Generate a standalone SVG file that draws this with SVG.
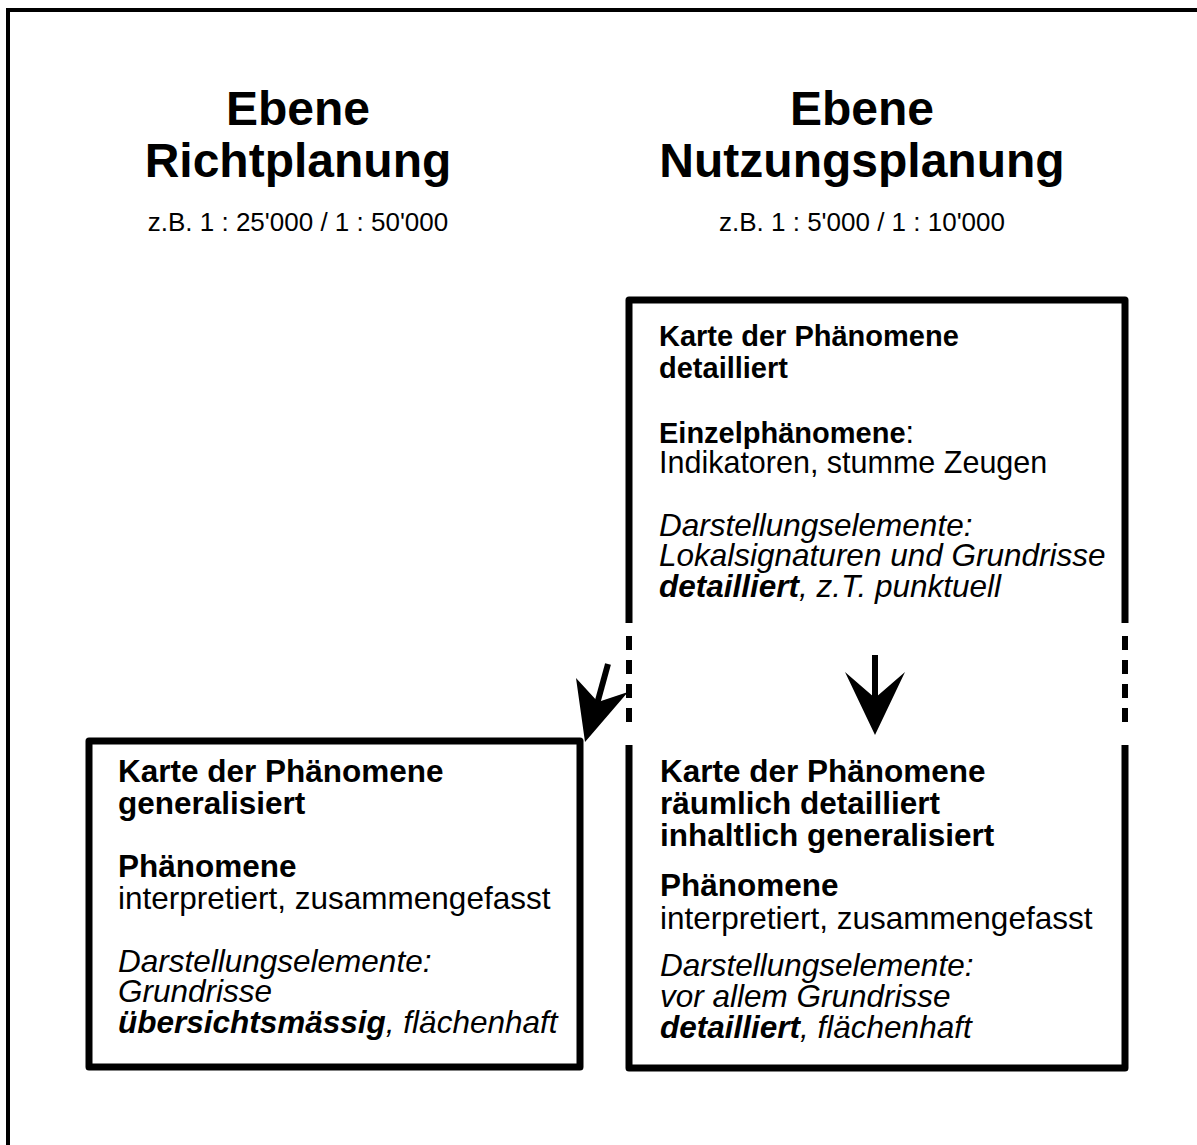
<svg xmlns="http://www.w3.org/2000/svg" width="1197" height="1145" viewBox="0 0 1197 1145">
<style>
text{font-family:"Liberation Sans",Arial,sans-serif;fill:#000}
.h{font-size:48px;font-weight:bold;text-anchor:middle}
.s{font-size:26px;text-anchor:middle}
.t{font-size:31.5px}
.t2{font-size:30.5px}
.b{font-weight:bold}
.tb{font-size:29px;font-weight:bold}
.i{font-style:italic}
.box{fill:none;stroke:#000;stroke-width:7;stroke-linejoin:round}
.dash{fill:none;stroke:#000;stroke-width:6;stroke-dasharray:14 10}
</style>
<rect width="1197" height="1145" fill="#fff"/>
<path d="M8,1145 V10 H1197" fill="none" stroke="#000" stroke-width="4"/>
<g id="title-left">
<text class="h" x="298" y="125">Ebene</text>
<text class="h" x="298" y="177">Richtplanung</text>
<text class="s" x="298" y="231">z.B. 1 : 25'000 / 1 : 50'000</text>
</g>
<g id="title-right">
<text class="h" x="862" y="125">Ebene</text>
<text class="h" x="862" y="177">Nutzungsplanung</text>
<text class="s" x="862" y="231">z.B. 1 : 5'000 / 1 : 10'000</text>
</g>
<g id="box-detailliert">
<path class="box" d="M629,623 V300 H1125 V623"/>
<path class="dash" d="M629,636 V730 M1125,636 V730"/>
<text class="tb" x="659" y="346">Karte der Phänomene</text>
<text class="tb" x="659" y="378">detailliert</text>
<text class="t2" x="659" y="443"><tspan class="b" font-size="29">Einzelphänomene</tspan>:</text>
<text class="t2" x="659" y="473">Indikatoren, stumme Zeugen</text>
<text class="t i" x="659" y="536">Darstellungselemente:</text>
<text class="t i" x="659" y="566">Lokalsignaturen und Grundrisse</text>
<text class="t i" x="659" y="597"><tspan class="b">detailliert</tspan>, z.T. punktuell</text>
</g>
<g id="box-raeumlich">
<path class="box" d="M629,745 V1068 H1125 V745"/>
<text class="t b" x="660" y="782">Karte der Phänomene</text>
<text class="t b" x="660" y="814">räumlich detailliert</text>
<text class="t b" x="660" y="846">inhaltlich generalisiert</text>
<text class="t b" x="660" y="896">Phänomene</text>
<text class="t" x="660" y="929">interpretiert, zusammengefasst</text>
<text class="t i" x="660" y="976">Darstellungselemente:</text>
<text class="t i" x="660" y="1007">vor allem Grundrisse</text>
<text class="t i" x="660" y="1038"><tspan class="b">detailliert</tspan>, flächenhaft</text>
</g>
<g id="box-generalisiert">
<rect class="box" x="89" y="741" width="491" height="326"/>
<text class="t b" x="118" y="782">Karte der Phänomene</text>
<text class="t b" x="118" y="814">generalisiert</text>
<text class="t b" x="118" y="877">Phänomene</text>
<text class="t" x="118" y="909">interpretiert, zusammengefasst</text>
<text class="t i" x="118" y="972">Darstellungselemente:</text>
<text class="t i" x="118" y="1002">Grundrisse</text>
<text class="t i" x="118" y="1033"><tspan class="b">übersichtsmässig</tspan>, flächenhaft</text>
</g>
<g id="connectors">
<line x1="875" y1="655" x2="875" y2="702" stroke="#000" stroke-width="6"/>
<polygon points="845,672 875,698 905,672 875,735" fill="#000"/>
<line x1="608" y1="664" x2="597" y2="704" stroke="#000" stroke-width="6"/>
<polygon points="576,678 598,702 628,692 585,742" fill="#000"/>
</g>
</svg>
